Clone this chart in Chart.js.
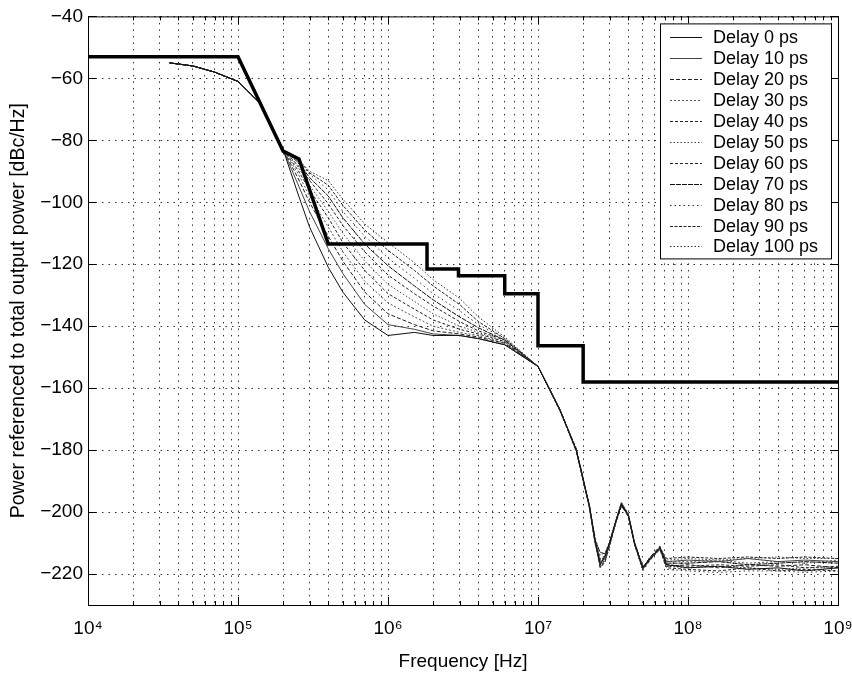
<!DOCTYPE html>
<html>
<head>
<meta charset="utf-8">
<script src="https://cdn.jsdelivr.net/npm/chart.js@4.4.0/dist/chart.umd.min.js"></script>
<style>
  html, body { margin: 0; padding: 0; background: #fff; overflow: hidden; }
  #wrap { width: 852px; height: 675px; }
</style>
</head>
<body>
<div id="wrap"><canvas id="chart" width="852" height="675"></canvas></div>
<script>
/* ---- data ---- */
const delayLabels = ["Delay 0 ps", "Delay 10 ps", "Delay 20 ps", "Delay 30 ps", "Delay 40 ps", "Delay 50 ps",
  "Delay 60 ps", "Delay 70 ps", "Delay 80 ps", "Delay 90 ps", "Delay 100 ps"];

// mask (thick black line)
const maskFreq = [1e4, 1e5, 2e5, 2.55e5, 4e5, 1.82e6, 1.82e6, 2.95e6, 2.95e6, 6e6, 6e6, 1e7, 1e7, 2e7, 2e7, 1e9];
const maskVals = [-53, -53, -83.5, -86, -113.5, -113.5, -121.5, -121.5, -123.7, -123.7, -129.5, -129.5, -146.3, -146.3, -158, -158];

// low-frequency part, same for every delay
const headFreq = [3.5e4, 5e4, 7e4, 1e5, 1.4e5];
const headVals = [-55, -56, -58, -61, -68];

// the fan between 200 kHz and 6 MHz
const fanFreq = [2e5, 2.5e5, 3e5, 4e5, 5e5, 7e5, 1e6, 1.5e6, 2e6, 3e6, 4e6, 6e6];
const fanVals = [
  [-83, -97, -108, -121, -129, -138, -143, -142, -143, -143, -144, -146],
  [-83, -94, -103, -115, -123, -133, -139.5, -141, -142.5, -143, -144, -146],
  [-83, -92, -100, -111, -119, -129, -136, -139.5, -141.5, -142.5, -143.5, -145.5],
  [-83, -90.5, -98, -108, -116, -125.5, -132.5, -137, -140, -142, -143, -145.5],
  [-83, -89.5, -96, -105, -113, -122, -129.5, -134.5, -138, -141, -142.5, -145],
  [-83, -88.5, -94.5, -103, -110, -119, -126.5, -132, -136, -140, -142, -145],
  [-83, -88, -93, -100.5, -107.5, -116, -123.5, -129.5, -133.5, -138.5, -141.5, -144.5],
  [-83, -87, -92, -98, -105, -113.5, -120.5, -127, -131.5, -137, -140.5, -144.5],
  [-83, -86.5, -91, -96, -103, -111, -118, -124.5, -129.5, -135, -139.5, -144],
  [-83, -86, -90.5, -94.5, -101, -109, -115.5, -122, -127, -133, -138.5, -144],
  [-83, -86, -90, -93, -99, -107, -113, -119.5, -125, -131, -137, -143.5]
];

// high-frequency roll-off and noise floor
const tailFreq = [1e7, 1.4e7, 1.8e7, 2.2e7, 2.4e7, 2.6e7, 2.8e7, 3e7, 3.3e7, 3.6e7, 4e7, 4.4e7, 5e7, 5.6e7,
  6.5e7, 7.2e7, 1e8, 1.6e8, 2.5e8, 4e8, 6e8, 1e9];
const tailVals = [
  [-153, -167, -180, -198, -209, -217, -214, -210, -203, -197.5, -201, -210, -218, -215, -211.5, -217, -218, -217.5, -218.5, -218, -219, -218],
  [-153, -167, -180, -198.5, -210, -216, -215, -210.5, -203, -197, -201, -210.5, -218.5, -215, -212, -216, -215.5, -216, -215, -216, -215.5, -216],
  [-153, -167, -180.5, -198, -209, -218, -216, -211, -203.5, -198, -201.5, -210, -218, -214.5, -211, -217.5, -217, -218, -217, -217.5, -217, -218],
  [-153, -167.5, -180, -197.5, -208, -214, -213, -209.5, -202.5, -197, -200.5, -209.5, -217.5, -215, -211.5, -216, -216, -215.5, -216.5, -216, -216.5, -215.5],
  [-153, -167, -179.5, -198, -210, -217.5, -215.5, -210, -203, -197.5, -201, -210, -218.5, -215.5, -212, -218, -218.5, -219, -218, -219, -218.5, -219],
  [-153, -167, -180, -198.5, -209.5, -215, -214, -210, -203, -197, -200.5, -210, -218, -215, -211.5, -215.5, -215, -215.5, -215, -214.5, -215, -215],
  [-153, -167, -180, -198, -209, -216.5, -215, -210.5, -203.5, -198, -201, -210.5, -218.5, -215, -212, -217, -217.5, -217, -217.5, -217, -218, -217.5],
  [-153, -167, -180, -198, -209, -213, -213.5, -210, -203, -197.5, -201, -210, -218, -214.5, -211.5, -216.5, -216.5, -216, -217, -216.5, -216, -216.5],
  [-153, -167, -180, -198, -209.5, -218, -216, -211, -203.5, -197.5, -201.5, -210.5, -219, -215.5, -212, -218.5, -219, -219.5, -219, -219, -219.5, -219],
  [-153, -167, -180, -198, -209, -215.5, -214.5, -210, -203, -197, -201, -210, -218, -215, -211.5, -215, -214.5, -215, -214.5, -215, -214.5, -215],
  [-153, -167, -180, -198.5, -210, -217, -215.5, -210.5, -203, -197.5, -201, -210, -218.5, -215, -212, -217.5, -218, -217.5, -218, -218.5, -218, -218]
];

const xMajorVals = [1e4, 1e5, 1e6, 1e7, 1e8, 1e9];
const xTickLabels = ["10⁴", "10⁵", "10⁶", "10⁷", "10⁸", "10⁹"];
const yTickVals = [-220, -200, -180, -160, -140, -120, -100, -80, -60, -40];

/* ---- styles ---- */
const lineStyles = [
  { color: "#111", dash: [] },
  { color: "#444", dash: [] },
  { color: "#222", dash: [4, 2] },
  { color: "#555", dash: [2, 2] },
  { color: "#222", dash: [3, 2] },
  { color: "#444", dash: [1.5, 2] },
  { color: "#222", dash: [3, 2] },
  { color: "#111", dash: [5, 1] },
  { color: "#333", dash: [1.5, 3] },
  { color: "#222", dash: [3, 1.5] },
  { color: "#333", dash: [1.5, 2] }
];
const FONT = '"Liberation Sans", Arial, Helvetica, sans-serif';

// grid positions for the log axis: 1..9 x 10^n
const xGridVals = [];
for (let n = 4; n < 9; n++) for (let m = 1; m <= 9; m++) xGridVals.push(m * Math.pow(10, n));
xGridVals.push(1e9);

const toPoints = (fs, vs) => fs.map((f, i) => ({ x: f, y: vs[i] }));

const datasets = [{
  label: "Mask",
  data: toPoints(maskFreq, maskVals),
  borderColor: "#000",
  borderWidth: 3.5,
  order: 0
}];
delayLabels.forEach((lab, k) => {
  const pts = toPoints(headFreq, headVals)
    .concat(toPoints(fanFreq, fanVals[k]))
    .concat(toPoints(tailFreq, tailVals[k]));
  datasets.push({
    label: lab,
    data: pts,
    borderColor: lineStyles[k].color,
    borderDash: lineStyles[k].dash,
    borderWidth: 1,
    order: 1
  });
});

// box round the plot with inward tick marks (matlab look)
const frame = {
  id: "frame",
  afterDraw(chart) {
    const { ctx, chartArea: a, scales: { x, y } } = chart;
    ctx.save();
    ctx.strokeStyle = "#000";
    ctx.lineWidth = 1;
    ctx.setLineDash([]);
    ctx.strokeRect(a.left + 0.5, a.top + 0.5, a.right - a.left, a.bottom - a.top);
    ctx.beginPath();
    x.ticks.forEach(t => {
      const px = Math.round(x.getPixelForValue(t.value)) + 0.5;
      const len = xMajorVals.some(v => Math.abs(v - t.value) / v < 1e-6) ? 8 : 4;
      ctx.moveTo(px, a.bottom); ctx.lineTo(px, a.bottom - len);
      ctx.moveTo(px, a.top); ctx.lineTo(px, a.top + len);
    });
    y.ticks.forEach(t => {
      const py = Math.round(y.getPixelForValue(t.value)) + 0.5;
      ctx.moveTo(a.left, py); ctx.lineTo(a.left + 8, py);
      ctx.moveTo(a.right, py); ctx.lineTo(a.right - 8, py);
    });
    ctx.stroke();
    ctx.restore();
  }
};

// legend box in the upper right corner of the plot
const legendBox = {
  id: "legendBox",
  afterDraw(chart) {
    const { ctx, chartArea: a } = chart;
    const items = chart.data.datasets.filter(d => d.label.startsWith("Delay"));
    const x0 = a.right - 178, y0 = a.top + 7, w = 171, h = 235, rowH = 20.9;
    ctx.save();
    ctx.fillStyle = "#fff";
    ctx.fillRect(x0, y0, w, h);
    ctx.strokeStyle = "#000";
    ctx.lineWidth = 1;
    ctx.strokeRect(x0 + 0.5, y0 + 0.5, w, h);
    ctx.font = "18px " + FONT;
    ctx.textBaseline = "middle";
    items.forEach((d, i) => {
      const yy = Math.round(y0 + 14 + i * rowH) + 0.5;
      ctx.strokeStyle = d.borderColor;
      ctx.lineWidth = 1;
      ctx.setLineDash(d.borderDash || []);
      ctx.beginPath();
      ctx.moveTo(x0 + 10, yy); ctx.lineTo(x0 + 42, yy);
      ctx.stroke();
      ctx.setLineDash([]);
      ctx.fillStyle = "#000";
      ctx.fillText(d.label, x0 + 53, yy + 1);
    });
    ctx.restore();
  }
};

new Chart(document.getElementById("chart"), {
  type: "line",
  data: { datasets },
  options: {
    responsive: false,
    animation: false,
    elements: { point: { radius: 0 }, line: { tension: 0, fill: false } },
    layout: { autoPadding: false, padding: { left: 0, right: 14, top: 12, bottom: 0 } },
    plugins: { legend: { display: false }, tooltip: { enabled: false } },
    scales: {
      x: {
        type: "logarithmic",
        min: 1e4,
        max: 1e9,
        afterBuildTicks: s => { s.ticks = xGridVals.map(v => ({ value: v })); },
        afterFit: s => { s.height = 70; s.paddingLeft = 0; s.paddingRight = 0; },
        ticks: {
          autoSkip: false,
          maxRotation: 0,
          padding: 12,
          color: "#000",
          font: { family: FONT, size: 19 },
          callback: v => {
            const i = xMajorVals.findIndex(m => Math.abs(m - v) / m < 1e-6);
            return i >= 0 ? xTickLabels[i] : "";
          }
        },
        grid: { color: "#333", lineWidth: 1, drawTicks: false },
        border: { display: true, color: "#000", dash: [1.5, 5] },
        title: { display: true, text: "Frequency [Hz]", color: "#000", font: { family: FONT, size: 19 }, padding: { top: 4, bottom: 2 } }
      },
      y: {
        type: "linear",
        min: -230,
        max: -40,
        afterBuildTicks: s => { s.ticks = yTickVals.map(v => ({ value: v })); },
        afterFit: s => { s.width = 88; },
        ticks: {
          padding: 5,
          color: "#000",
          font: { family: FONT, size: 19 },
          callback: v => String(v).replace("-", "\u2212")
        },
        grid: { color: "#333", lineWidth: 1, drawTicks: false },
        border: { display: true, color: "#000", dash: [1.5, 5] },
        title: { display: true, text: "Power referenced to total output power [dBc/Hz]", color: "#000", font: { family: FONT, size: 19.5 }, padding: { top: 7, bottom: 0 } }
      }
    }
  },
  plugins: [frame, legendBox]
});
</script>
</body>
</html>
